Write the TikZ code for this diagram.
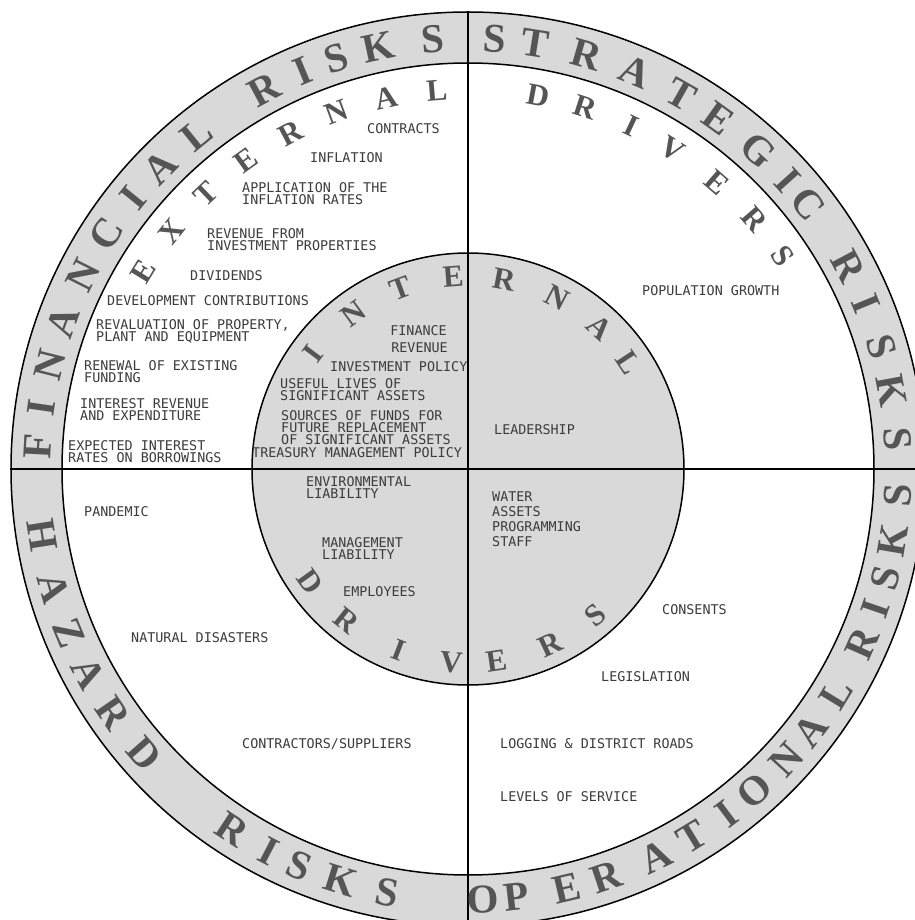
\documentclass[tikz,border=0pt]{standalone}
\usepackage{fontspec}
\setmainfont{Liberation Serif}
\newfontfamily\cadfont{DejaVu Sans Mono}
\definecolor{ringgray}{RGB}{217,217,217}
\definecolor{bigtxt}{RGB}{85,85,85}
\definecolor{smalltxt}{RGB}{60,60,60}
\begin{document}
\begin{tikzpicture}[x=1pt,y=1pt,
  bigletter/.style={text=bigtxt, inner sep=0pt, font=\fontsize{41}{41}\selectfont\bfseries},
  midletter/.style={text=bigtxt, inner sep=0pt, font=\fontsize{31}{31}\selectfont\bfseries},
  item/.style={text=smalltxt, inner sep=0pt, font=\cadfont\fontsize{13.4}{12}\selectfont, align=left, anchor=north west},
  itemr/.style={item, align=right, anchor=north east},
  ringline/.style={line width=1.5pt, draw=black},
  crossline/.style={line width=1.2pt, draw=black}
]
\useasboundingbox (-468,-451) rectangle (446,469);
\fill[ringgray] (0,0) circle (457);
\fill[white] (0,0) circle (406);
\fill[ringgray] (0,0) circle (216);
\draw[ringline] (0,0) circle (457);
\draw[ringline] (0,0) circle (406);
\draw[ringline] (0,0) circle (216);
\coordinate (W) at (180:457);
\coordinate (E) at (0:457);
\coordinate (N) at (90:457);
\coordinate (S) at (270:457);
\draw[crossline] (W) -- (E);
\draw[crossline] (N) -- (S);

% outer ring texts
\foreach \a/\t [count=\i] in {177/F,171.8/I,166/N,160/A,153.3/N,147/C,141/I,135.6/A,129/L,118.3/R,112.6/I,107.8/S,102/K,94.7/S}
  \node[bigletter, rotate=\a-90] (fin\i) at (\a:431) {\t};
\foreach \a/\t [count=\i] in {86.4/S,81/T,74/R,67.1/A,60.4/T,54.4/E,47.7/G,42/I,37.9/C,28.1/R,22.5/I,16.5/S,10.5/K,4/S}
  \node[bigletter, rotate=\a-90] (str\i) at (\a:431) {\t};
\foreach \a/\t [count=\i] in {188.9/H,196/A,202.4/Z,208.2/A,214.5/R,221.3/D,236.8/R,242.5/I,246.9/S,252.8/K,259.2/S}
  \node[bigletter, rotate=\a+90] (haz\i) at (\a:431) {\t};
\foreach \a/\t [count=\i] in {-88/O,-83.5/P,-76.8/E,-71.3/R,-64.2/A,-58.7/T,-53.1/I,-48.3/O,-42.4/N,-37.3/A,-31.4/L,-23.9/R,-18.9/I,-14.6/S,-9.6/K,-3.5/S}
  \node[bigletter, rotate=\a+90] (ope\i) at (\a:431) {\t};

% middle ring texts
\foreach \a/\t [count=\i] in {148.6/E,141.3/X,133.7/T,125.7/E,117.9/R,110.2/N,102.4/A,94.7/L}
  \node[midletter, rotate=\a-90] (ext\i) at (\a:380) {\t};
\foreach \a/\t [count=\i] in {79.3/D,72/R,64.6/I,57.4/V,49/E,41/R,34.1/S}
  \node[midletter, rotate=\a-90] (sdr\i) at (\a:380) {\t};

% inner circle texts
\foreach \a/\t [count=\i] in {143.2/I,126.2/N,110.5/T,94.4/E,79.2/R,62.5/N,47.1/A,33.4/L}
  \node[midletter, rotate=\a-90] (int\i) at (\a:193) {\t};
\foreach \a/\t [count=\i] in {215.6/D,231.3/R,249/I,265/V,278.4/E,295.2/R,311/S}
  \node[midletter, rotate=\a+90] (idr\i) at (\a:194) {\t};

% items
\node[item] (contracts) at (-101,346) {CONTRACTS};
\node[item] (inflation) at (-158,317) {INFLATION};
\node[item] (appl) at (-226,287) {APPLICATION OF THE\\INFLATION RATES};
\node[item] (revinv) at (-261,241) {REVENUE FROM\\INVESTMENT PROPERTIES};
\node[item] (divid) at (-278,199) {DIVIDENDS};
\node[item] (devcon) at (-361,174) {DEVELOPMENT CONTRIBUTIONS};
\node[item] (reval) at (-372,150) {REVALUATION OF PROPERTY,\\PLANT AND EQUIPMENT};
\node[item] (renew) at (-384,109) {RENEWAL OF EXISTING\\FUNDING};
\node[item] (intrev) at (-388,71) {INTEREST REVENUE\\AND EXPENDITURE};
\node[item] (expint) at (-400,29) {EXPECTED INTEREST\\RATES ON BORROWINGS};

\node[itemr] (finance) at (-21,144) {FINANCE};
\node[itemr] (revenue) at (-20,126) {REVENUE};
\node[item] (invpol) at (-138,108) {INVESTMENT POLICY};
\node[item] (useful) at (-188,91) {USEFUL LIVES OF\\SIGNIFICANT ASSETS};
\node[item] (sources) at (-187,59) {SOURCES OF FUNDS FOR\\FUTURE REPLACEMENT\\OF SIGNIFICANT ASSETS};
\node[item] (treasury) at (-216,22) {TREASURY MANAGEMENT POLICY};

\node[item] (popgrowth) at (174,184) {POPULATION GROWTH};
\node[item] (leadership) at (26,45) {LEADERSHIP};

\node[item] (envliab) at (-162,-7) {ENVIRONMENTAL\\LIABILITY};
\node[item] (pandemic) at (-384,-37) {PANDEMIC};
\node[item] (mgmtliab) at (-146,-68) {MANAGEMENT\\LIABILITY};
\node[item] (employees) at (-125,-117) {EMPLOYEES};
\node[item] (natural) at (-337,-163) {NATURAL DISASTERS};
\node[item] (contractors) at (-226,-269) {CONTRACTORS/SUPPLIERS};

\node[item, font=\cadfont\fontsize{13.4}{15}\selectfont] (water) at (24,-23) {WATER\\ASSETS\\PROGRAMMING\\STAFF};
\node[item] (consents) at (194,-135) {CONSENTS};
\node[item] (legislation) at (133,-202) {LEGISLATION};
\node[item] (logging) at (32,-269) {LOGGING \& DISTRICT ROADS};
\node[item] (levels) at (32,-322) {LEVELS OF SERVICE};
\end{tikzpicture}
\end{document}
